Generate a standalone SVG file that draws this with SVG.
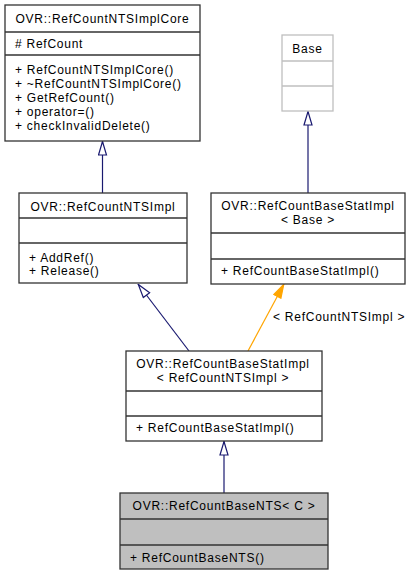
<svg xmlns="http://www.w3.org/2000/svg" width="412" height="576" viewBox="0 0 412 576">
<style>
text{font-family:"Liberation Sans",Arial,sans-serif;font-size:12px;letter-spacing:0.75px;fill:#000}
.c{text-anchor:middle}
.box{fill:#fff;stroke:#333;stroke-width:1.3}
.gbox{fill:#fff;stroke:#bfbfbf;stroke-width:1.3}
.sel{fill:#bfbfbf;stroke:#333;stroke-width:1.3}
.sep{stroke:#333;stroke-width:1.3}
.gsep{stroke:#bfbfbf;stroke-width:1.3}
.inh{fill:none;stroke:#191970;stroke-width:1.2}
.tpl{fill:none;stroke:#ffa500;stroke-width:1.2}
</style>
<defs>
<marker id="hollow" viewBox="0 0 15 10" refX="15" refY="5" markerWidth="15" markerHeight="10" markerUnits="userSpaceOnUse" orient="auto">
<path d="M1,1 L14.5,5 L1,9 z" fill="#fff" stroke="#191970" stroke-width="1.2"/>
</marker>
<marker id="filled" viewBox="0 0 15 10" refX="15" refY="5" markerWidth="15" markerHeight="10" markerUnits="userSpaceOnUse" orient="auto">
<path d="M1,1 L14.5,5 L1,9 z" fill="#ffa500" stroke="#ffa500" stroke-width="1.2"/>
</marker>
</defs>
<g id="connectors">
<path class="inh" d="M102.5,193 L102.5,141" marker-end="url(#hollow)"/>
<path class="inh" d="M308,193 L308,111" marker-end="url(#hollow)"/>
<path class="inh" d="M189,351 L138,284" marker-end="url(#hollow)"/>
<path class="tpl" d="M248,351 L284,284" marker-end="url(#filled)"/>
<text x="273" y="321">&lt; RefCountNTSImpl &gt;</text>
<path class="inh" d="M224,493 L224,441" marker-end="url(#hollow)"/>
</g>
<g id="RefCountNTSImplCore">
<rect class="box" x="5" y="5" width="195" height="136"/>
<line class="sep" x1="5" y1="32" x2="200" y2="32"/>
<line class="sep" x1="5" y1="55" x2="200" y2="55"/>
<text class="c" x="102.5" y="23">OVR::RefCountNTSImplCore</text>
<text x="15" y="47.5"># RefCount</text>
<text x="15" y="74">+ RefCountNTSImplCore()</text>
<text x="15" y="88">+ ~RefCountNTSImplCore()</text>
<text x="15" y="102">+ GetRefCount()</text>
<text x="15" y="116">+ operator=()</text>
<text x="15" y="130">+ checkInvalidDelete()</text>
</g>
<g id="Base">
<rect class="gbox" x="282" y="35" width="51" height="76"/>
<line class="gsep" x1="282" y1="61" x2="333" y2="61"/>
<line class="gsep" x1="282" y1="86" x2="333" y2="86"/>
<text class="c" x="307.5" y="52.5">Base</text>
</g>
<g id="RefCountNTSImpl">
<rect class="box" x="19" y="193" width="168" height="90"/>
<line class="sep" x1="19" y1="218" x2="187" y2="218"/>
<line class="sep" x1="19" y1="243" x2="187" y2="243"/>
<text class="c" x="103" y="210.5">OVR::RefCountNTSImpl</text>
<text x="29" y="262">+ AddRef()</text>
<text x="29" y="275">+ Release()</text>
</g>
<g id="RefCountBaseStatImpl_Base">
<rect class="box" x="211" y="193" width="194" height="91"/>
<line class="sep" x1="211" y1="233" x2="405" y2="233"/>
<line class="sep" x1="211" y1="259" x2="405" y2="259"/>
<text class="c" x="308" y="209.5">OVR::RefCountBaseStatImpl</text>
<text class="c" x="308" y="224">&lt; Base &gt;</text>
<text x="221" y="275">+ RefCountBaseStatImpl()</text>
</g>
<g id="RefCountBaseStatImpl_RefCountNTSImpl">
<rect class="box" x="126" y="351" width="196" height="90"/>
<line class="sep" x1="126" y1="391" x2="322" y2="391"/>
<line class="sep" x1="126" y1="416" x2="322" y2="416"/>
<text class="c" x="223" y="368">OVR::RefCountBaseStatImpl</text>
<text class="c" x="223" y="381.5">&lt; RefCountNTSImpl &gt;</text>
<text x="136" y="432">+ RefCountBaseStatImpl()</text>
</g>
<g id="RefCountBaseNTS">
<rect class="sel" x="120" y="493" width="208" height="76"/>
<line class="sep" x1="120" y1="519" x2="328" y2="519"/>
<line class="sep" x1="120" y1="545" x2="328" y2="545"/>
<text class="c" x="224" y="510">OVR::RefCountBaseNTS&lt; C &gt;</text>
<text x="130" y="562">+ RefCountBaseNTS()</text>
</g>
</svg>
